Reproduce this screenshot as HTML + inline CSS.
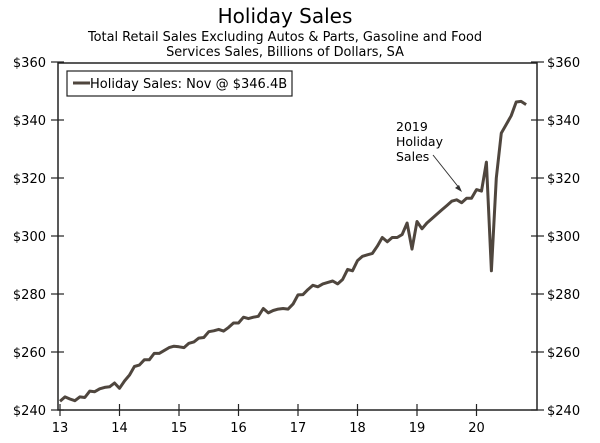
<!DOCTYPE html>
<html><head><meta charset="utf-8"><style>
body{margin:0;background:#fff;}
svg{display:block;font-family:"DejaVu Sans","Liberation Sans",sans-serif;}
</style></head><body>
<svg id="chart" width="600" height="443" viewBox="0 0 600 443">
<text x="285" y="23" text-anchor="middle" font-size="20" fill="#000">Holiday Sales</text>
<text x="285" y="41" text-anchor="middle" font-size="12.9" fill="#000">Total Retail Sales Excluding Autos &amp; Parts, Gasoline and Food</text>
<text x="285" y="56" text-anchor="middle" font-size="12.9" fill="#000">Services Sales, Billions of Dollars, SA</text>
<rect x="58" y="63" width="479" height="347" fill="none" stroke="#222" stroke-width="1.5"/>
<g id="yl"></g>
<g id="yr"></g>
<g id="xa"></g>
<path id="line" fill="none" stroke="#4f463e" stroke-width="3" stroke-linejoin="round"/>
<g>
<text x="396" y="131" font-size="12.5" fill="#000">2019</text>
<text x="396" y="146" font-size="12.5" fill="#000">Holiday</text>
<text x="396" y="161" font-size="12.5" fill="#000">Sales</text>
<line x1="433" y1="155" x2="460" y2="189" stroke="#333" stroke-width="1"/>
<polygon points="462,192 455,188 459,185" fill="#333"/>
</g>
<g>
<rect x="67" y="71" width="225" height="25" fill="#fff" stroke="#222" stroke-width="1.2"/>
<line x1="73" y1="83" x2="90" y2="83" stroke="#4f463e" stroke-width="3"/>
<text x="90" y="88" font-size="13" fill="#000">Holiday Sales: Nov @ $346.4B</text>
</g>
</svg>
<script>
const years=["13","14","15","16","17","18","19","20"];
const yTicks=[240,260,280,300,320,340,360];
const sales=[
243,244.5,243.8,243.2,244.5,244.3,246.5,246.3,247.3,247.8,248,249.3,
247.5,250,252,255,255.5,257.3,257.3,259.5,259.5,260.5,261.5,262,
261.8,261.5,263,263.5,264.8,265,267,267.3,267.8,267.2,268.5,270,
270,272,271.5,272,272.3,275,273.5,274.3,274.8,275,274.8,276.5,
279.7,279.8,281.5,283,282.5,283.5,284,284.5,283.5,285,288.5,288,
291.5,293,293.5,294,296.5,299.5,298,299.5,299.5,300.5,304.5,295.5,
305,302.5,304.5,306,307.5,309,310.5,312,312.5,311.5,313,313,
316,315.5,325.5,288,320,335.5,338.5,341.5,346.2,346.4,345.3];
const ns="http://www.w3.org/2000/svg";
const X0=60,PPM=59.5/12,Y0=410,PPV=348/120;
function xs(i){return X0+i*PPM;}
function ys(v){return Y0-(v-240)*PPV;}
function mk(t,a,p){const e=document.createElementNS(ns,t);for(const k in a)e.setAttribute(k,a[k]);p.appendChild(e);return e;}
const yl=document.getElementById('yl'),yr=document.getElementById('yr'),xa=document.getElementById('xa');
yTicks.forEach(v=>{
 const y=ys(v);
 const l1=mk('line',{x1:51,x2:64,y1:y,y2:y,stroke:'#222','stroke-width':1.2},yl);
 
 
 const t1=mk('text',{x:46,y:y+5,'text-anchor':'end','font-size':13,fill:'#000'},yl);
 t1.textContent='$'+v;
 
 
 const l2=mk('line',{x1:531,x2:544,y1:y,y2:y,stroke:'#222','stroke-width':1.2},yr);
 
 
 const t2=mk('text',{x:547,y:y+5,'font-size':13,fill:'#000'},yr);
 t2.textContent='$'+v;
 
 
});
years.forEach((yr_,k)=>{
 const x=xs(k*12);
 const l=mk('line',{x1:x,x2:x,y1:404,y2:416,stroke:'#222','stroke-width':1.2},xa);
 
 
 const t=mk('text',{x:x,y:432,'text-anchor':'middle','font-size':13,fill:'#000'},xa);
 t.textContent=yr_;
 
 
});
document.getElementById('line').setAttribute('d',sales.map((v,i)=>(i?'L':'M')+xs(i).toFixed(1)+','+ys(v).toFixed(1)).join(''));
</script>
</body></html>
